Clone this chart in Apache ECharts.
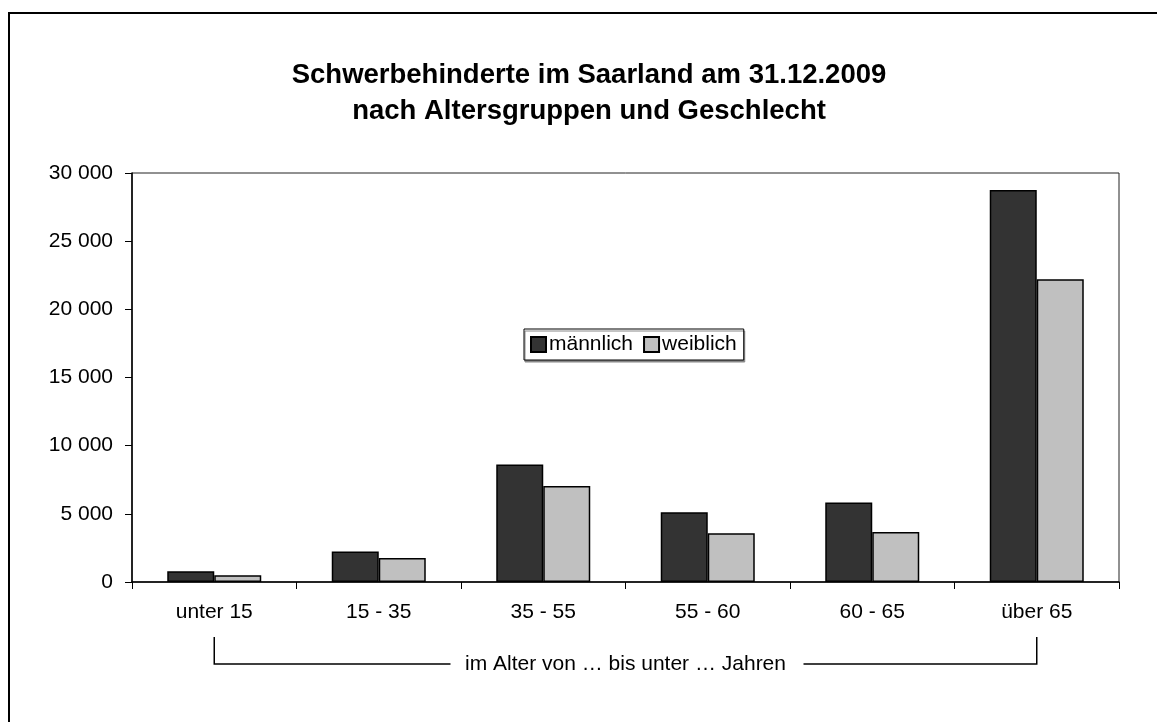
<!DOCTYPE html>
<html>
<head>
<meta charset="utf-8">
<script src="https://cdn.jsdelivr.net/npm/echarts@6/dist/echarts.min.js"></script>
<style>
  html, body { margin: 0; padding: 0; background: #fff; }
  #chart { width: 1157px; height: 722px; }
</style>
</head>
<body>
<div id="chart"></div>
<script>
const categories = ['unter 15', '15 - 35', '35 - 55', '55 - 60', '60 - 65', 'über 65'];
const maleValues = [780, 2230, 8620, 5120, 5830, 28760];
const femaleValues = [490, 1760, 7050, 3575, 3670, 22200];
const yTicks = { min: 0, max: 30000, interval: 5000 };
const fontFamily = 'Liberation Sans, Arial, sans-serif';

const fmt = (v) => String(v).replace(/\B(?=(\d{3})+(?!\d))/g, ' ');

const chart = echarts.init(document.getElementById('chart'));

const option = {
  animation: false,
  backgroundColor: '#fff',
  textStyle: { fontFamily: fontFamily, color: '#000' },
  title: {
    text: 'Schwerbehinderte im Saarland am 31.12.2009\nnach Altersgruppen und Geschlecht',
    left: 584,
    top: 52,
    textAlign: 'center',
    textStyle: { fontSize: 27.5, fontWeight: 'bold', lineHeight: 36, color: '#000', fontFamily: fontFamily }
  },
  legend: {
    left: 524,
    top: 329,
    padding: [5, 7, 5, 6],
    itemGap: 10,
    itemWidth: 15,
    itemHeight: 15,
    borderColor: '#000',
    borderWidth: 1,
    backgroundColor: '#fff',
    shadowColor: '#888',
    shadowOffsetX: 1,
    shadowOffsetY: 2,
    shadowBlur: 0,
    icon: 'rect',
    textStyle: { fontSize: 21, color: '#000', fontFamily: fontFamily, padding: [0, 0, 0, -2] },
    data: ['männlich', 'weiblich']
  },
  grid: {
    left: 132,
    right: 38,
    top: 173,
    bottom: 140,
    show: true,
    borderColor: '#222',
    borderWidth: 1,
    containLabel: false
  },
  xAxis: {
    type: 'category',
    data: categories,
    axisLine: { lineStyle: { color: '#000', width: 1.5 } },
    axisTick: { show: true, length: 7, interval: 0, lineStyle: { color: '#000' } },
    axisLabel: { fontSize: 21, color: '#000', margin: 20, interval: 0, fontFamily: fontFamily }
  },
  yAxis: {
    type: 'value',
    min: yTicks.min,
    max: yTicks.max,
    interval: yTicks.interval,
    axisLine: { show: true, lineStyle: { color: '#000', width: 1.5 } },
    axisTick: { show: true, length: 7, lineStyle: { color: '#000' } },
    axisLabel: { fontSize: 21, color: '#000', margin: 19, formatter: fmt, fontFamily: fontFamily },
    splitLine: { show: false }
  },
  series: [
    {
      name: 'männlich',
      type: 'bar',
      data: maleValues,
      barWidth: 47,
      barGap: '0%',
      itemStyle: { color: '#333333', borderColor: '#000', borderWidth: 1.5 }
    },
    {
      name: 'weiblich',
      type: 'bar',
      data: femaleValues,
      barWidth: 47,
      barGap: '0%',
      itemStyle: { color: '#c0c0c0', borderColor: '#000', borderWidth: 1.5 }
    }
  ]
};

chart.setOption(option);

// bracket under the category labels, from first to last category centre
const x0 = chart.convertToPixel({ xAxisIndex: 0 }, categories[0]);
const x1 = chart.convertToPixel({ xAxisIndex: 0 }, categories[categories.length - 1]);
const yTop = 637;
const yLine = 664;
const mid = (chart.convertToPixel({ xAxisIndex: 0 }, categories[2]) + chart.convertToPixel({ xAxisIndex: 0 }, categories[3])) / 2;
const lineStyle = { stroke: '#000', lineWidth: 1.5 };

chart.setOption({
  graphic: [
    {
      type: 'rect',
      shape: { x: 9, y: 13, width: 1160, height: 740 },
      style: { fill: 'none', stroke: '#000', lineWidth: 2 },
      silent: true
    },
    { type: 'polyline', shape: { points: [[x0, yTop], [x0, yLine], [mid - 175, yLine]] }, style: lineStyle, silent: true },
    { type: 'polyline', shape: { points: [[mid + 178, yLine], [x1, yLine], [x1, yTop]] }, style: lineStyle, silent: true },
    {
      type: 'text',
      x: mid,
      y: yLine,
      style: {
        text: 'im Alter von … bis unter … Jahren',
        font: '21px ' + fontFamily,
        fill: '#000',
        textAlign: 'center',
        textVerticalAlign: 'middle'
      },
      silent: true
    }
  ]
});
</script>
</body>
</html>
